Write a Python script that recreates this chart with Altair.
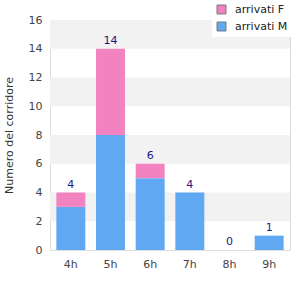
import altair as alt
import pandas as pd

hours = ["4h", "5h", "6h", "7h", "8h", "9h"]
arrivati_m = [3, 8, 5, 4, 0, 1]
arrivati_f = [1, 6, 1, 0, 0, 0]
totals = [m + f for m, f in zip(arrivati_m, arrivati_f)]
band_starts = [2, 6, 10, 14]

rows = []
for h, m, f in zip(hours, arrivati_m, arrivati_f):
    rows.append({"ora": h, "serie": "arrivati M", "valore": m, "ord": 0})
    rows.append({"ora": h, "serie": "arrivati F", "valore": f, "ord": 1})
bars_df = pd.DataFrame(rows)
tot_df = pd.DataFrame({"ora": hours, "totale": totals})
band_df = pd.DataFrame({"y0": band_starts, "y1": [b + 2 for b in band_starts]})

W, H = 240, 230
yscale = alt.Scale(domain=[0, 16], nice=False, zero=True)
xscale = alt.Scale(domain=hours, paddingInner=0.27, paddingOuter=0.16)

yaxis = alt.Axis(title="Numero del corridore", values=list(range(0, 17, 2)),
                 ticks=False, domain=False, grid=False,
                 labelColor="#444", labelFontSize=11, labelPadding=8,
                 labelFont="DejaVu Sans",
                 titleColor="#333", titleFontSize=11, titleFontWeight="normal",
                 titleFont="DejaVu Sans", titlePadding=14)
xaxis = alt.Axis(title=None, labelAngle=0, ticks=False, domain=False,
                 labelColor="#444", labelFontSize=11, labelPadding=8,
                 labelFont="DejaVu Sans")

bands = alt.Chart(band_df).mark_rect(color="#f2f2f2").encode(
    x=alt.value(0), x2=alt.value(W),
    y=alt.Y("y0:Q", scale=yscale, axis=yaxis, stack=None),
    y2="y1:Q",
)

bars = alt.Chart(bars_df).mark_bar().encode(
    x=alt.X("ora:N", scale=xscale, sort=hours, axis=xaxis),
    y=alt.Y("valore:Q", stack="zero", scale=yscale, axis=yaxis),
    color=alt.Color("serie:N",
                    scale=alt.Scale(domain=["arrivati F", "arrivati M"],
                                    range=["#F283C0", "#60A8F2"]),
                    legend=alt.Legend(title=None, orient="none", legendX=162, legendY=-20,
                                      fillColor="white", padding=4,
                                      symbolType="square", symbolStrokeColor="#777",
                                      symbolStrokeWidth=1, symbolSize=80,
                                      labelFontSize=11, labelColor="#222",
                                      labelFont="DejaVu Sans", rowPadding=4,
                                      labelOffset=8)),
    order=alt.Order("ord:Q", sort="ascending"),
)

labels = alt.Chart(tot_df).mark_text(
    color="#1a1a80", fontSize=11, baseline="bottom", dy=-3, font="DejaVu Sans"
).encode(
    x=alt.X("ora:N", scale=xscale, sort=hours, axis=xaxis),
    y=alt.Y("totale:Q", scale=yscale, axis=yaxis),
    text="totale:Q",
)

chart = alt.layer(bands, bars, labels).properties(
    width=W, height=H,
    autosize=alt.AutoSizeParams(type="none"),
    padding={"left": 50, "top": 20, "right": 10, "bottom": 50},
).configure_view(stroke="#d6d6d6", strokeWidth=1).configure(background="white")

chart.save("out.html", embed_options={"renderer": "svg", "actions": False})
